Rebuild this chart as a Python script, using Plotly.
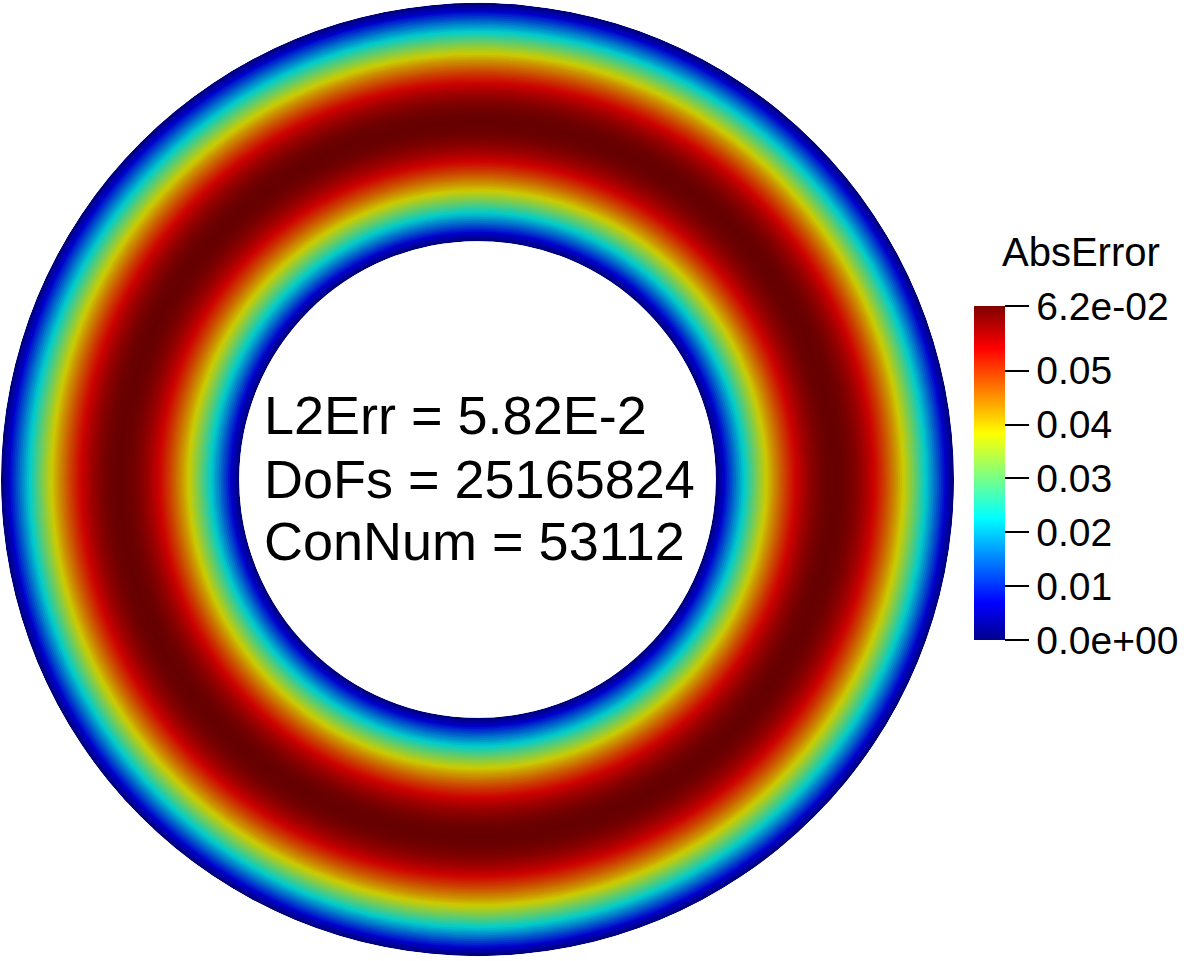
import numpy as np
import plotly.graph_objects as go

# ---------------- data ----------------
r_inner = 0.5
r_outer = 1.0
# absolute error per radial ring, from the inner boundary to the outer boundary
ring_error = [
    0.00076, 0.00228, 0.00380, 0.00532, 0.00683, 0.00834, 0.00985, 0.01135,
    0.01284, 0.01433, 0.01580, 0.01727, 0.01872, 0.02017, 0.02160, 0.02302,
    0.02443, 0.02582, 0.02719, 0.02855, 0.02990, 0.03122, 0.03252, 0.03381,
    0.03508, 0.03632, 0.03754, 0.03874, 0.03992, 0.04107, 0.04220, 0.04330,
    0.04438, 0.04542, 0.04645, 0.04744, 0.04841, 0.04934, 0.05025, 0.05112,
    0.05197, 0.05278, 0.05357, 0.05432, 0.05503, 0.05572, 0.05637, 0.05698,
    0.05757, 0.05812, 0.05863, 0.05911, 0.05955, 0.05995, 0.06032, 0.06066,
    0.06095, 0.06121, 0.06144, 0.06162, 0.06177, 0.06188, 0.06196, 0.06200,
    0.06200, 0.06196, 0.06188, 0.06177, 0.06162, 0.06144, 0.06121, 0.06095,
    0.06066, 0.06032, 0.05995, 0.05955, 0.05911, 0.05863, 0.05812, 0.05757,
    0.05698, 0.05637, 0.05572, 0.05503, 0.05432, 0.05357, 0.05278, 0.05197,
    0.05112, 0.05025, 0.04934, 0.04841, 0.04744, 0.04645, 0.04542, 0.04438,
    0.04330, 0.04220, 0.04107, 0.03992, 0.03874, 0.03754, 0.03632, 0.03508,
    0.03381, 0.03252, 0.03122, 0.02990, 0.02855, 0.02719, 0.02582, 0.02443,
    0.02302, 0.02160, 0.02017, 0.01872, 0.01727, 0.01580, 0.01433, 0.01284,
    0.01135, 0.00985, 0.00834, 0.00683, 0.00532, 0.00380, 0.00228, 0.00076,
]
err_min = 0.0
err_max = 0.062
cbar_tickvals = [0.0, 0.01, 0.02, 0.03, 0.04, 0.05, 0.062]
cbar_ticktext = ["0.0e+00", "0.01", "0.02", "0.03", "0.04", "0.05", "6.2e-02"]
cbar_title = "AbsError"
info_lines = ["L2Err = 5.82E-2", "DoFs = 25165824", "ConNum = 53112"]

# ---------------- styling ----------------
W, H = 1191, 961
FONT = "Liberation Sans, Arial, sans-serif"

jet_stops = [0.0, 0.111, 0.365, 0.492, 0.619, 0.873, 1.0]
jet_rgb = [(0, 0, 143), (0, 0, 255), (0, 255, 255), (128, 255, 128),
           (255, 255, 0), (255, 0, 0), (128, 0, 0)]
shade = 0.8
jet_bright = [[s, "rgb(%d,%d,%d)" % c] for s, c in zip(jet_stops, jet_rgb)]
jet_shaded = [[s, "rgb(%d,%d,%d)" % tuple(int(round(v * shade)) for v in c)]
              for s, c in zip(jet_stops, jet_rgb)]

n = len(ring_error)
edges = np.linspace(r_inner, r_outer, n + 1)
dr = edges[1] - edges[0]
thick = [dr * 1.8] * (n - 1) + [dr]

fig = go.Figure()
fig.add_trace(go.Barpolar(
    base=edges[:-1],
    r=thick,
    theta=[0] * n,
    width=[360] * n,
    marker=dict(color=ring_error, colorscale=jet_shaded, cmin=err_min, cmax=err_max,
                line=dict(width=0), showscale=False),
    hoverinfo="skip",
))

# colour legend (unshaded colours, as in the reference colour bar)
fig.add_trace(go.Scatter(
    x=[None], y=[None], mode="markers",
    marker=dict(color=[err_min], colorscale=jet_bright, cmin=err_min, cmax=err_max,
                showscale=True,
                colorbar=dict(
                    x=974 / W, xanchor="left", xpad=0,
                    y=(H - 640) / H, yanchor="bottom", ypad=0,
                    len=334, lenmode="pixels",
                    thickness=31, thicknessmode="pixels",
                    outlinewidth=0,
                    tickvals=cbar_tickvals, ticktext=cbar_ticktext,
                    ticks="outside", ticklen=24, tickwidth=1.5, tickcolor="black",
                    tickfont=dict(family=FONT, size=39, color="black"),
                )),
    hoverinfo="skip", showlegend=False,
))

annotations = [dict(text=cbar_title, x=1080.5 / W, y=1 - 251.7 / H, xref="paper", yref="paper",
                    xanchor="center", yanchor="middle", showarrow=False,
                    font=dict(family=FONT, size=40, color="black"))]
for line, ypx in zip(info_lines, [414.8, 479, 540.8]):
    annotations.append(dict(text=line, x=262 / W, y=1 - ypx / H, xref="paper", yref="paper",
                            xanchor="left", yanchor="middle", showarrow=False,
                            font=dict(family=FONT, size=54, color="black")))

fig.update_layout(
    width=W, height=H,
    margin=dict(l=0, r=0, t=0, b=0),
    paper_bgcolor="white", plot_bgcolor="white",
    showlegend=False,
    polar=dict(
        domain=dict(x=[1 / W, 954 / W], y=[(H - 956) / H, (H - 3) / H]),
        hole=r_inner / r_outer,
        bgcolor="white",
        radialaxis=dict(range=[r_inner, r_outer], visible=False, showgrid=False),
        angularaxis=dict(visible=False, showgrid=False),
    ),
    xaxis=dict(visible=False), yaxis=dict(visible=False),
    annotations=annotations,
)

fig.write_html("out.html",
               config={"displayModeBar": False},
               post_script="document.body.style.margin='0';document.body.style.overflow='hidden';")
